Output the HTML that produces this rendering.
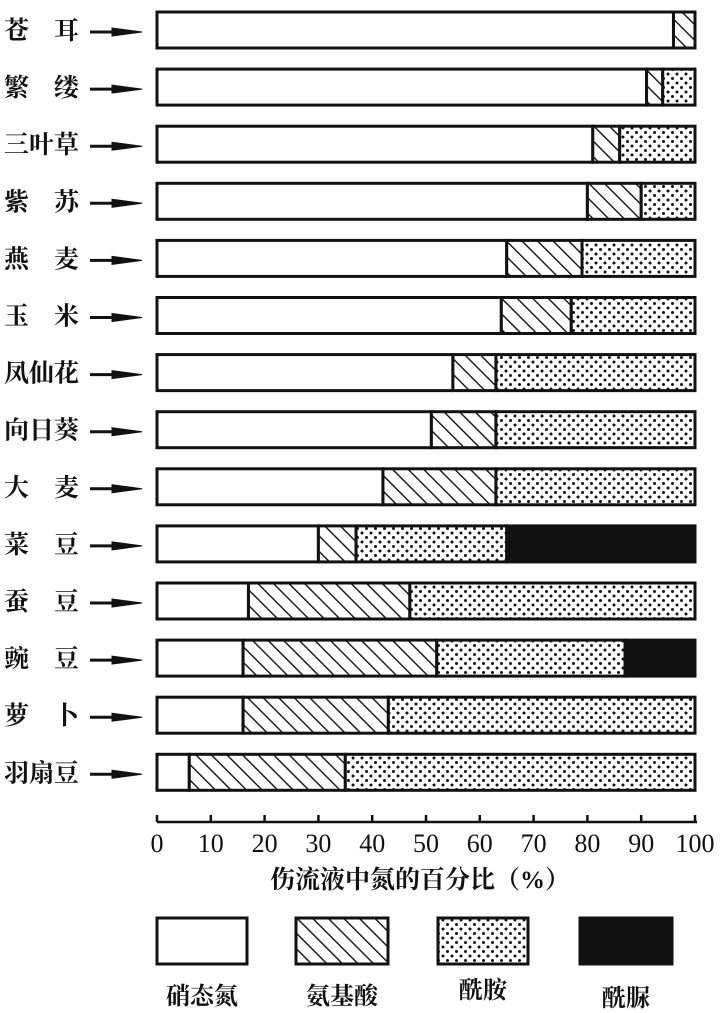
<!DOCTYPE html><html><head><meta charset="utf-8"><style>body{margin:0;background:#fff}svg{display:block}text{font-family:"Liberation Serif","Noto Serif CJK SC","Noto Sans CJK SC",serif;fill:#111}</style></head><body>
<svg width="723" height="1013" viewBox="0 0 723 1013">
<defs>
<pattern id="h" width="11" height="11" patternUnits="userSpaceOnUse" patternTransform="rotate(-45)"><rect width="11" height="11" fill="#fff"/><line x1="0" y1="0" x2="0" y2="11" stroke="#111" stroke-width="2.8"/></pattern>
<pattern id="d" width="9" height="9" patternUnits="userSpaceOnUse"><rect width="9" height="9" fill="#fff"/><circle cx="2" cy="2" r="1.5" fill="#111"/><circle cx="6.5" cy="6.5" r="1.5" fill="#111"/></pattern>
</defs>
<g id="bars" stroke="#111" stroke-width="3"></g>
<g id="labs" font-size="25" font-weight="bold"></g>
<line x1="157" y1="822" x2="697" y2="822" stroke="#111" stroke-width="2.5"/>
<g id="ticks" stroke="#111" stroke-width="2.5"></g>
<g id="tl" font-size="26" text-anchor="middle"></g>
<text x="420" y="888" font-size="25" text-anchor="middle" font-weight="bold">伤流液中氮的百分比（%）</text>
<rect x="157" y="918" width="90" height="46" fill="#fff" stroke="#111" stroke-width="3"/>
<rect x="296" y="918" width="92" height="46" fill="url(#h)" stroke="#111" stroke-width="3"/>
<rect x="438" y="918" width="90" height="46" fill="url(#d)" stroke="#111" stroke-width="3"/>
<rect x="580" y="918" width="92" height="46" fill="#111" stroke="#111" stroke-width="3"/>
<g font-size="24" font-weight="bold" text-anchor="middle"><text x="202" y="1004">硝态氮</text><text x="342" y="1004">氨基酸</text><text x="483" y="998">酰胺</text><text x="626" y="1006">酰脲</text></g>
</svg>
<script>
var d=[["苍　耳",96,100,100],["繁　缕",91,94,100],["三叶草",81,86,100],["紫　苏",80,90,100],["燕　麦",65,79,100],["玉　米",64,77,100],["凤仙花",55,63,100],["向日葵",51,63,100],["大　麦",42,63,100],["菜　豆",30,37,65],["蚕　豆",17,47,100],["豌　豆",16,52,87],["萝　卜",16,43,100],["羽扇豆",6,35,100]];
var ns="http://www.w3.org/2000/svg";function X(p){return 157+p*5.38}
function el(g,t,a,txt){var e=document.createElementNS(ns,t);for(var k in a)e.setAttribute(k,a[k]);if(txt)e.textContent=txt;document.getElementById(g).appendChild(e);}
d.forEach(function(r,i){var y=12+i*57.1,h=36;
el("bars","rect",{x:X(0),y:y,width:X(r[1])-X(0),height:h,fill:"#fff"});
if(r[2]>r[1])el("bars","rect",{x:X(r[1]),y:y,width:X(r[2])-X(r[1]),height:h,fill:"url(#h)"});
if(r[3]>r[2])el("bars","rect",{x:X(r[2]),y:y,width:X(r[3])-X(r[2]),height:h,fill:"url(#d)"});
if(r[3]<100)el("bars","rect",{x:X(r[3]),y:y,width:X(100)-X(r[3]),height:h,fill:"#111"});
el("labs","text",{x:4,y:y+27},r[0]);
el("bars","line",{x1:90,y1:y+20,x2:120,y2:y+20});
el("bars","polygon",{points:"112,"+(y+16)+" 142,"+(y+20)+" 112,"+(y+24),fill:"#111","stroke-width":"1"});
});
for(var t=0;t<=100;t+=10){el("ticks","line",{x1:X(t),y1:815,x2:X(t),y2:822});el("tl","text",{x:X(t),y:852},""+t);}
</script>
</body></html>
